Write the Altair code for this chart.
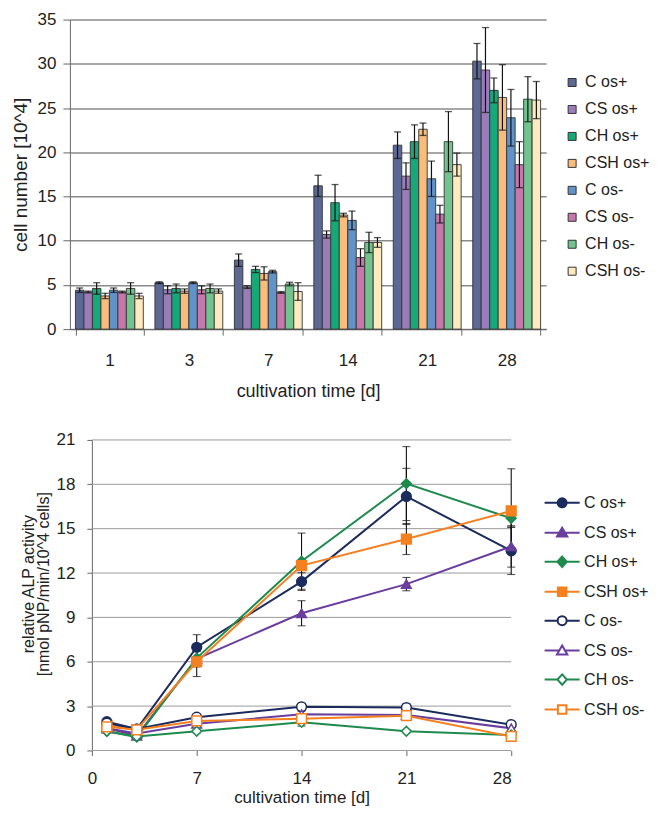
import altair as alt
import pandas as pd

FONT = "Liberation Sans"
TXT = "#222222"

# ---------------- top chart: cell number ----------------
days = ["1", "3", "7", "14", "21", "28"]
groups = ["C os+", "CS os+", "CH os+", "CSH os+", "C os-", "CS os-", "CH os-", "CSH os-"]
bar_colors = ["#5b6994", "#9a7cb9", "#15a97a", "#f8bd7d", "#6193c9", "#c677ab", "#72c48e", "#fdebbf"]

cells_C_p = [4.4, 5.25, 7.8, 16.2, 20.8, 30.3]
cells_CS_p = [4.2, 4.45, 4.75, 10.7, 17.3, 29.3]
cells_CH_p = [4.6, 4.6, 6.75, 14.3, 21.2, 27.0]
cells_CSH_p = [3.75, 4.3, 6.3, 12.9, 22.6, 26.2]
cells_C_m = [4.4, 5.25, 6.5, 12.3, 17.0, 23.9]
cells_CS_m = [4.2, 4.45, 4.15, 8.1, 13.0, 18.6]
cells_CH_m = [4.6, 4.6, 5.1, 9.8, 21.2, 26.0]
cells_CSH_m = [3.75, 4.3, 4.25, 9.8, 18.6, 25.9]

err_C_p = [0.25, 0.1, 0.7, 1.2, 1.5, 2.0]
err_CS_p = [0.1, 0.45, 0.15, 0.4, 1.5, 4.8]
err_CH_p = [0.65, 0.5, 0.35, 2.05, 1.9, 1.4]
err_CSH_p = [0.3, 0.25, 0.75, 0.2, 0.7, 3.7]
err_C_m = [0.25, 0.1, 0.15, 1.05, 2.0, 3.2]
err_CS_m = [0.1, 0.45, 0.1, 1.0, 1.0, 2.6]
err_CH_m = [0.65, 0.5, 0.2, 1.15, 3.4, 2.55]
err_CSH_m = [0.3, 0.25, 1.0, 0.55, 1.3, 2.1]

cell_vals = [cells_C_p, cells_CS_p, cells_CH_p, cells_CSH_p, cells_C_m, cells_CS_m, cells_CH_m, cells_CSH_m]
cell_errs = [err_C_p, err_CS_p, err_CH_p, err_CSH_p, err_C_m, err_CS_m, err_CH_m, err_CSH_m]
cell_ticks = [0, 5, 10, 15, 20, 25, 30, 35]

rows = []
for g, vals, errs in zip(groups, cell_vals, cell_errs):
    for d, v, e in zip(days, vals, errs):
        rows.append({"day": d, "group": g, "v": v, "lo": v - e, "hi": v + e})
cell_df = pd.DataFrame(rows)

x_top = alt.X("day:N", sort=days,
              scale=alt.Scale(paddingInner=0.146, paddingOuter=0.07),
              axis=alt.Axis(title="cultivation time [d]", labelAngle=0, tickBand="extent",
                            tickSize=6, labelPadding=17, titlePadding=14,
                            labelFontSize=17, titleFontSize=18,
                            domainColor="#666666", tickColor="#666666", grid=False))
xo_top = alt.XOffset("group:N", sort=groups, scale=alt.Scale(paddingInner=0, paddingOuter=0))
ys_top = alt.Scale(domain=[0, 35], nice=False)
ya_top = alt.Axis(title="cell number [10^4]", values=cell_ticks, tickSize=7, labelPadding=7,
                  titlePadding=7, labelFontSize=17, titleFontSize=19,
                  gridColor="#8a8a8a", gridWidth=1.5, domainColor="#666666", tickColor="#666666")

bars = alt.Chart(cell_df).mark_bar(stroke="#333333", strokeWidth=0.9).encode(
    x=x_top, xOffset=xo_top,
    y=alt.Y("v:Q", scale=ys_top, axis=ya_top),
    fill=alt.Fill("group:N", sort=groups, scale=alt.Scale(domain=groups, range=bar_colors),
                  legend=alt.Legend(title=None, orient="none", legendX=495, legendY=55,
                                    symbolType="square", symbolSize=64, symbolStrokeColor="#333333",
                                    symbolStrokeWidth=1, labelFont=FONT, labelFontSize=16,
                                    labelColor=TXT, labelOffset=5, rowPadding=11, padding=0)),
)
err_rule = alt.Chart(cell_df).mark_rule(color="#111111", strokeWidth=1.2).encode(
    x=x_top, xOffset=xo_top,
    y=alt.Y("lo:Q", scale=ys_top, axis=ya_top), y2="hi:Q")
cap_hi = alt.Chart(cell_df).mark_tick(color="#111111", thickness=1.3, size=7, orient="horizontal").encode(
    x=x_top, xOffset=xo_top, y=alt.Y("hi:Q", scale=ys_top, axis=ya_top))
cap_lo = alt.Chart(cell_df).mark_tick(color="#111111", thickness=1.3, size=7, orient="horizontal").encode(
    x=x_top, xOffset=xo_top, y=alt.Y("lo:Q", scale=ys_top, axis=ya_top))

top = alt.layer(bars, err_rule, cap_hi, cap_lo).properties(width=477, height=310)

# ---------------- bottom chart: ALP activity ----------------
alp_days = [1, 3, 7, 14, 21, 28]
line_colors = ["#1b2b5c", "#6a3e9e", "#1f8a4d", "#f5801f", "#1b2b5c", "#6a3e9e", "#1f8a4d", "#f5801f"]
fill_colors = ["#1b2b5c", "#6a3e9e", "#1f8a4d", "#f5801f", "white", "white", "white", "white"]
marker_shapes = ["circle", "triangle-up", "diamond", "square", "circle", "triangle-up", "diamond", "square"]

alp_C_p = [1.95, 1.45, 6.98, 11.42, 17.18, 13.5]
alp_CS_p = [1.5, 1.0, 6.2, 9.28, 11.25, 13.8]
alp_CH_p = [1.3, 0.9, 6.25, 12.8, 18.05, 15.7]
alp_CSH_p = [1.7, 1.4, 6.0, 12.5, 14.3, 16.2]
alp_C_m = [1.85, 1.45, 2.25, 2.95, 2.9, 1.75]
alp_CS_m = [1.5, 1.15, 1.8, 2.45, 2.4, 1.5]
alp_CH_m = [1.3, 0.95, 1.3, 1.9, 1.3, 1.05]
alp_CSH_m = [1.6, 1.4, 2.0, 2.15, 2.35, 0.95]

aerr_C_p = [0.15, 0.1, 0.85, 0.6, 1.9, 1.6]
aerr_CS_p = [0.1, 0.1, 0.5, 0.85, 0.45, 1.4]
aerr_CH_p = [0.1, 0.1, 0.6, 1.9, 2.5, 0.6]
aerr_CSH_p = [0.15, 0.1, 1.0, 0.3, 1.05, 2.85]
aerr_C_m = [0.1, 0.1, 0.15, 0.15, 0.25, 0.2]
aerr_CS_m = [0.1, 0.1, 0.15, 0.2, 0.35, 0.2]
aerr_CH_m = [0.1, 0.1, 0.1, 0.25, 0.1, 0.1]
aerr_CSH_m = [0.1, 0.1, 0.15, 0.2, 0.3, 0.2]

alp_vals = [alp_C_p, alp_CS_p, alp_CH_p, alp_CSH_p, alp_C_m, alp_CS_m, alp_CH_m, alp_CSH_m]
alp_errs = [aerr_C_p, aerr_CS_p, aerr_CH_p, aerr_CSH_p, aerr_C_m, aerr_CS_m, aerr_CH_m, aerr_CSH_m]
alp_yticks = [0, 3, 6, 9, 12, 15, 18, 21]
alp_xticks = [0, 7, 14, 21, 28]

rows = []
for g, vals, errs in zip(groups, alp_vals, alp_errs):
    for d, v, e in zip(alp_days, vals, errs):
        rows.append({"day": d, "group": g, "v": v, "lo": v - e, "hi": v + e})
alp_df = pd.DataFrame(rows)
grid_df = pd.DataFrame({"g": alp_yticks})

# legend symbols: a short line through the marker
legend_paths = [
    "M-3.9,0H-1M1,0H3.9M-1,0A1,1 0 1,0 1,0A1,1 0 1,0 -1,0Z",
    "M-3.9,0H-0.6M0.6,0H3.9M0,-1.15L1.15,0.85L-1.15,0.85Z",
    "M-3.9,0H-1.05M1.05,0H3.9M0,-1.15L1.05,0L0,1.15L-1.05,0Z",
    "M-3.9,0H-0.95M0.95,0H3.9M-0.95,-0.95H0.95V0.95H-0.95Z",
] * 2

xs_b = alt.Scale(domain=[-1.4667, 28], nice=False, zero=False)
xa_b = alt.Axis(title="cultivation time [d]", values=alp_xticks, format="d", domain=False, grid=False,
                tickSize=5, tickColor="#666666", labelPadding=15, titlePadding=3, titleX=232,
                labelFontSize=17, titleFontSize=17)
ys_b = alt.Scale(domain=[0, 21], nice=False)
ya_b = alt.Axis(title=["relative ALP activity", "[nmol pNP/min/10^4 cells]"], values=alp_yticks,
                grid=False, offset=-22, tickSize=5, labelPadding=12, titlePadding=5, titleY=144,
                labelFontSize=17, titleFontSize=16, titleLineHeight=15,
                domainColor="#666666", tickColor="#666666")

stroke_sc = alt.Scale(domain=groups, range=line_colors)
fill_sc = alt.Scale(domain=groups, range=fill_colors)

gridlines = alt.Chart(grid_df).mark_rule(color="#9a9a9a", strokeWidth=1).encode(
    x=alt.X(datum=0, type="quantitative", scale=xs_b, axis=xa_b),
    x2=alt.X2(datum=28),
    y=alt.Y("g:Q", scale=ys_b, axis=ya_b))

xb = alt.X("day:Q", scale=xs_b, axis=xa_b)

lines = alt.Chart(alp_df).mark_line(strokeWidth=2).encode(
    x=xb, y=alt.Y("v:Q", scale=ys_b, axis=ya_b),
    stroke=alt.Stroke("group:N", sort=groups, scale=stroke_sc, legend=None))
aerr = alt.Chart(alp_df).mark_rule(color="#111111", strokeWidth=1.1).encode(
    x=xb, y=alt.Y("lo:Q", scale=ys_b, axis=ya_b), y2="hi:Q")
acap_hi = alt.Chart(alp_df).mark_tick(color="#111111", thickness=1.1, size=8, orient="horizontal").encode(
    x=xb, y=alt.Y("hi:Q", scale=ys_b, axis=ya_b))
acap_lo = alt.Chart(alp_df).mark_tick(color="#111111", thickness=1.1, size=8, orient="horizontal").encode(
    x=xb, y=alt.Y("lo:Q", scale=ys_b, axis=ya_b))
points = alt.Chart(alp_df).mark_point(size=95, strokeWidth=1.5, opacity=1).encode(
    x=xb, y=alt.Y("v:Q", scale=ys_b, axis=ya_b),
    stroke=alt.Stroke("group:N", sort=groups, scale=stroke_sc, legend=None),
    fill=alt.Fill("group:N", sort=groups, scale=fill_sc, legend=None),
    shape=alt.Shape("group:N", sort=groups, scale=alt.Scale(domain=groups, range=marker_shapes), legend=None))

leg = alt.Legend(title=None, orient="none", legendX=485, legendY=55, symbolSize=81,
                 symbolStrokeWidth=2, symbolOpacity=1, labelFont=FONT, labelFontSize=16,
                 labelColor=TXT, labelOffset=14, rowPadding=11, padding=0)
legend_layer = alt.Chart(alp_df).mark_point(opacity=0).encode(
    x=xb, y=alt.Y("v:Q", scale=ys_b, axis=ya_b),
    stroke=alt.Stroke("group:N", sort=groups, scale=stroke_sc, legend=leg),
    fill=alt.Fill("group:N", sort=groups, scale=fill_sc, legend=leg),
    shape=alt.Shape("group:N", sort=groups, scale=alt.Scale(domain=groups, range=legend_paths), legend=leg))

bottom = alt.layer(gridlines, lines, aerr, acap_hi, acap_lo, points, legend_layer).resolve_scale(
    stroke="independent", fill="independent", shape="independent"
).properties(width=442, height=311)

chart = alt.vconcat(top, bottom, spacing=31).properties(
    padding={"left": 3, "top": 2, "right": 0, "bottom": 0}
).configure_view(stroke=None).configure_axis(
    labelFont=FONT, titleFont=FONT, labelColor=TXT, titleColor=TXT, titleFontWeight="normal"
)

chart.save("out.html", embed_options={"renderer": "svg", "actions": False})
